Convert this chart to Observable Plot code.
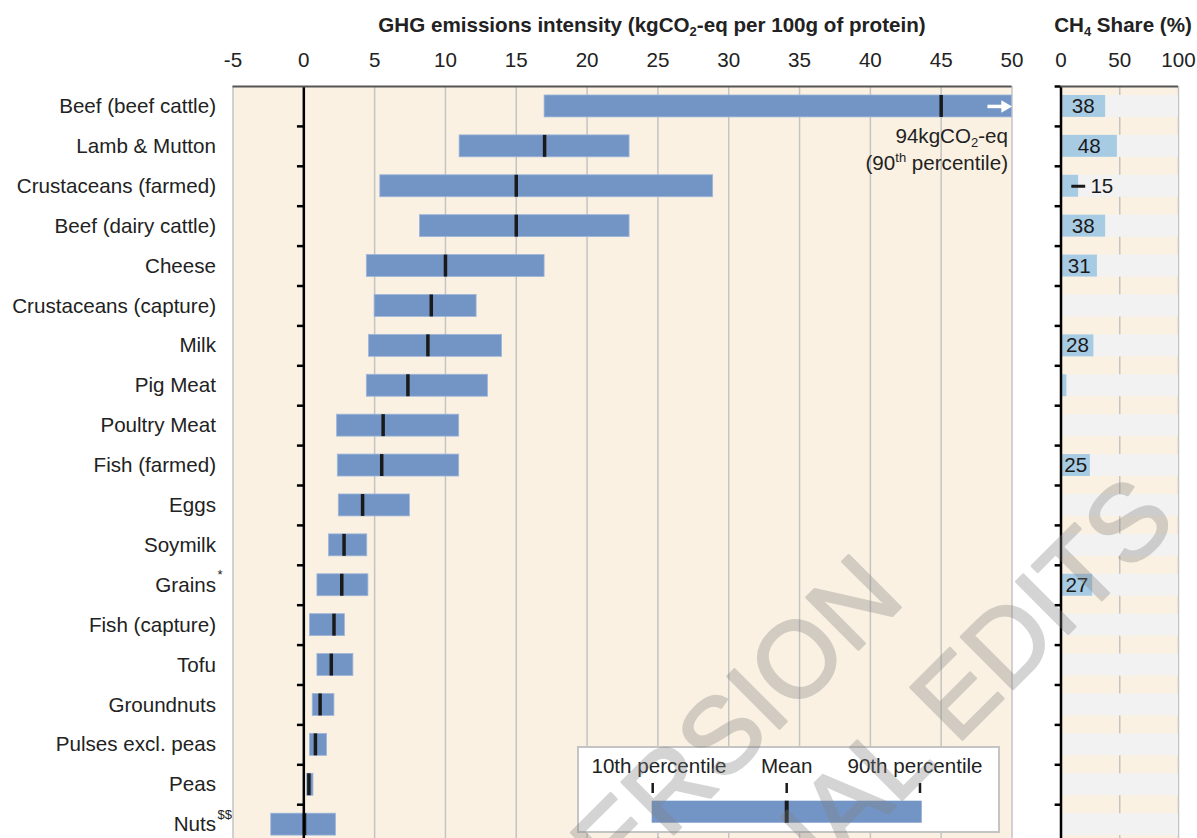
<!DOCTYPE html>
<html>
<head>
<meta charset="utf-8">
<script src="https://cdn.jsdelivr.net/npm/d3@7"></script>
<script src="https://cdn.jsdelivr.net/npm/@observablehq/plot@0.6"></script>
<style>
html, body { margin: 0; padding: 0; background: #fff; overflow: hidden; width: 1197px; height: 838px; }
body { position: relative; font-family: "Liberation Sans", Arial, sans-serif; color: #222; }
.abs { position: absolute; white-space: nowrap; line-height: 24px; font-size: 20.6px; }
.bold { font-weight: bold; }
.sub { font-size: 13px; position: relative; top: 4px; }
.sup { font-size: 13px; position: relative; top: -8px; }
svg text { font-family: "Liberation Sans", Arial, sans-serif; }
</style>
</head>
<body>
<div id="main" style="position:absolute;left:0;top:0"></div>
<div id="side" style="position:absolute;left:1040px;top:0"></div>

<div class="abs bold" style="left:652px;top:12.5px;transform:translateX(-50%)">GHG emissions intensity (kgCO<span class="sub">2</span>-eq per 100g of protein)</div>
<div class="abs bold" style="left:1123px;top:12.5px;transform:translateX(-50%)">CH<span class="sub">4</span> Share (%)</div>

<div class="abs" style="right:189px;top:124px;">94kgCO<span class="sub">2</span>-eq</div>
<div class="abs" style="right:189px;top:150.5px;">(90<span class="sup">th</span> percentile)</div>

<svg id="legend" width="1197" height="838" style="position:absolute;left:0;top:0;pointer-events:none">
  <rect x="578" y="747" width="421" height="85" fill="#fff" stroke="#c4c4c4" stroke-width="2"></rect>
  <text x="659" y="772.5" text-anchor="middle" font-size="20.6" fill="#222">10th percentile</text>
  <text x="786.7" y="772.5" text-anchor="middle" font-size="20.6" fill="#222">Mean</text>
  <text x="915" y="772.5" text-anchor="middle" font-size="20.6" fill="#222">90th percentile</text>
  <line x1="652.7" x2="652.7" y1="783" y2="793" stroke="#1a1a1a" stroke-width="2.5"></line>
  <line x1="786.7" x2="786.7" y1="783" y2="793" stroke="#1a1a1a" stroke-width="2.5"></line>
  <line x1="920" x2="920" y1="783" y2="793" stroke="#1a1a1a" stroke-width="2.5"></line>
  <rect x="651.7" y="800.7" width="270" height="22" fill="#7395c6"></rect>
  <line x1="786.7" x2="786.7" y1="800.7" y2="822.7" stroke="#1a1a1a" stroke-width="4"></line>
</svg>

<svg id="wm" width="1197" height="838" style="position:absolute;left:0;top:0;pointer-events:none">
  <g font-family="Liberation Sans, Arial, sans-serif" font-size="107" fill="#808080" stroke="#808080" stroke-width="2.5" stroke-linejoin="round" text-anchor="end">
    <text opacity="0.33" transform="translate(907,601) rotate(-45)">ACCEPTED VERSION</text>
    <text opacity="0.33" transform="translate(1179,523) rotate(-45)">SUBJECT TO FINAL EDITS</text>
  </g>
</svg>

<script>
// ---------------- data ----------------
const categories = [
  "Beef (beef cattle)", "Lamb & Mutton", "Crustaceans (farmed)", "Beef (dairy cattle)",
  "Cheese", "Crustaceans (capture)", "Milk", "Pig Meat", "Poultry Meat", "Fish (farmed)",
  "Eggs", "Soymilk", "Grains", "Fish (capture)", "Tofu", "Groundnuts",
  "Pulses excl. peas", "Peas", "Nuts"
];
const categorySup = ["", "", "", "", "", "", "", "", "", "", "", "", "*", "", "", "", "", "", "$$"];
const p10Values  = [17.0, 11.0, 5.4, 8.2, 4.45, 5.0, 4.6, 4.45, 2.35, 2.4, 2.47, 1.78, 0.96, 0.44, 0.96, 0.63, 0.44, 0.22, -2.3];
const meanValues = [45.0, 17.0, 15.0, 15.0, 10.0, 9.0, 8.76, 7.35, 5.6, 5.5, 4.15, 2.84, 2.68, 2.13, 1.94, 1.15, 0.82, 0.36, 0.05];
const p90Values  = [94, 23.0, 28.9, 23.0, 17.0, 12.2, 14.0, 13.0, 10.97, 10.97, 7.49, 4.48, 4.56, 2.9, 3.5, 2.16, 1.64, 0.68, 2.27];
const ch4Share   = [38, 48, 15, 38, 31, null, 28, 5, null, 25, 1, null, 27, null, null, null, null, null, null];
const xTicks = [-5, 0, 5, 10, 15, 20, 25, 30, 35, 40, 45, 50];
const shareTicks = [0, 50, 100];

// ---------------- styling ----------------
const beige = "#faf1e2";
const barBlue = "#7395c6";
const lightBlue = "#a8cbe4";
const rowGray = "#f2f2f2";
const gridGray = "#c4c4c4";
const font = "Liberation Sans, Arial, sans-serif";
const fontSize = "20.6px";

const xMin = xTicks[0], xMax = xTicks[xTicks.length - 1];
const rows = categories.map((c, i) => ({
  cat: c, p10: p10Values[i], mean: meanValues[i], p90: p90Values[i], share: ch4Share[i]
}));

const H = 850, mt = 86, n = categories.length;
const step = 39.9;
const mb = H - mt - step * n;
const yScale = {domain: categories, paddingInner: 0.45, paddingOuter: 0.225, align: 0.5, round: false};

// ---------------- main chart ----------------
const mainW = 1040, mainML = 232.5, mainMR = mainW - 1011.5;
const clipped = rows.filter(d => d.p90 > xMax);
const main = Plot.plot({
  width: mainW, height: H,
  marginTop: mt, marginBottom: mb, marginLeft: mainML, marginRight: mainMR,
  style: {fontSize, fontFamily: font, color: "#222", background: "none", overflow: "visible"},
  x: {domain: [xMin, xMax], axis: "top", ticks: xTicks, tickSize: 0, tickPadding: 20, tickFormat: d => String(d), label: null},
  y: {...yScale, axis: "left", tickSize: 0, tickPadding: 17, label: null},
  marks: [
    Plot.frame({fill: beige, stroke: null}),
    Plot.ruleX(xTicks.filter(d => d !== 0), {stroke: gridGray, strokeWidth: 1.5}),
    Plot.barX(rows, {y: "cat", x1: "p10", x2: d => Math.min(d.p90, xMax), fill: barBlue, stroke: "#9fb6da", strokeWidth: 0.8}),
    Plot.tickX(rows, {y: "cat", x: "mean", stroke: "#1a1a1a", strokeWidth: 3.5}),
    // white arrow marking a 90th percentile beyond the axis
    Plot.ruleY(clipped, {y: "cat", x1: xMax - 1.7, x2: xMax - 0.5, stroke: "#fff", strokeWidth: 3.5}),
    Plot.dot(clipped, {y: "cat", x: xMax - 0.5, symbol: "triangle", r: 4.6, rotate: 90, fill: "#fff", stroke: null}),
    Plot.ruleX([0], {stroke: "#000", strokeWidth: 2.5}),
    Plot.ruleY(categories.slice(1), {y: d => d, x1: -0.45, x2: 0, dy: -step / 2, stroke: "#000", strokeWidth: 2.5}),
    Plot.ruleY([categories[0]], {y: d => d, dy: -step / 2, stroke: "#555", strokeWidth: 2})
  ]
});
document.getElementById("main").appendChild(main);

// superscripts on category labels
main.querySelectorAll("text").forEach(t => {
  const i = categories.indexOf(t.textContent);
  if (i >= 0 && categorySup[i]) {
    const s = t.cloneNode(false);
    s.textContent = categorySup[i];
    s.setAttribute("text-anchor", "start");
    s.setAttribute("font-size", "13");
    s.style.fontSize = "13px";
    s.removeAttribute("dy");
    s.setAttribute("y", "-6");
    s.setAttribute("transform", (t.getAttribute("transform") || "") + " translate(1.5,0)");
    t.parentNode.appendChild(s);
  }
});

// ---------------- CH4 share panel ----------------
const sideW = 157, sideML = 20.5, sideMR = 19;
const labelled = rows.filter(d => d.share != null && d.share >= 10);
const side = Plot.plot({
  width: sideW, height: H,
  marginTop: mt, marginBottom: mb, marginLeft: sideML, marginRight: sideMR,
  style: {fontSize, fontFamily: font, color: "#222", background: "none", overflow: "visible"},
  x: {domain: [0, 100], axis: "top", ticks: shareTicks, tickSize: 0, tickPadding: 20, tickFormat: d => String(d), label: null},
  y: {...yScale, axis: null},
  marks: [
    Plot.frame({fill: beige, stroke: null}),
    Plot.ruleX([50, 100], {stroke: gridGray, strokeWidth: 1.5}),
    Plot.barX(rows, {y: "cat", x1: 0, x2: 100, fill: rowGray}),
    Plot.barX(rows.filter(d => d.share != null), {y: "cat", x1: 0, x2: "share", fill: lightBlue}),
    Plot.text(labelled.filter(d => d.share >= 20), {y: "cat", x: d => d.share / 2, text: d => String(d.share), fill: "#1a1a1a"}),
    Plot.ruleY(labelled.filter(d => d.share < 20), {y: "cat", x1: d => d.share - 5.8, x2: d => d.share + 6, stroke: "#1a1a1a", strokeWidth: 3}),
    Plot.text(labelled.filter(d => d.share < 20), {y: "cat", x: d => d.share + 10, text: d => String(d.share), textAnchor: "start", fill: "#1a1a1a"}),
    Plot.ruleX([0], {stroke: "#000", strokeWidth: 2.5}),
    Plot.ruleY(categories, {y: d => d, x1: -5, x2: 0, dy: -step / 2, stroke: "#000", strokeWidth: 2.5}),
    Plot.ruleY([categories[0]], {y: d => d, x1: 0, x2: 100, dy: -step / 2, stroke: "#555", strokeWidth: 2})
  ]
});
document.getElementById("side").appendChild(side);
</script>
</body>
</html>
